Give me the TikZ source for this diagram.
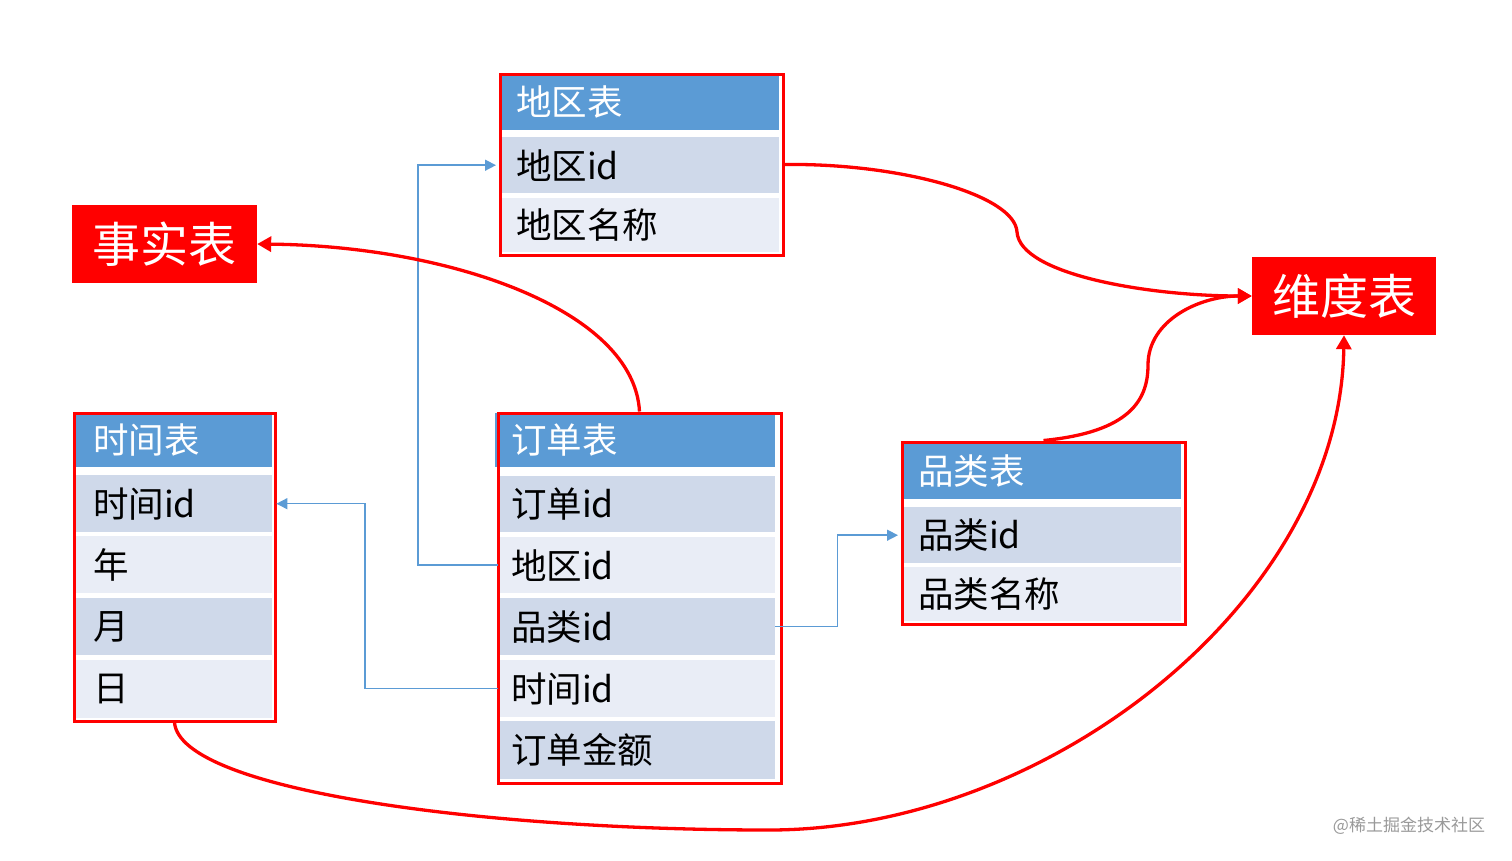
\documentclass[tikz,border=0pt]{standalone}
\usepackage{fontspec}
\setmainfont{Noto Sans CJK SC}
\usetikzlibrary{arrows.meta}
\definecolor{hdr}{HTML}{5B9BD5}
\definecolor{rdark}{HTML}{CFD9EA}
\definecolor{rlight}{HTML}{E9EDF6}
\definecolor{lnblue}{HTML}{5B9BD5}
\definecolor{frred}{HTML}{FF0000}
\begin{document}
\begin{tikzpicture}[x=1pt,y=-1pt,
  cell/.style={anchor=north west, inner xsep=16pt, inner ysep=0pt, align=left,
    font=\fontsize{35.5}{40}\selectfont, text=black},
  headcell/.style={cell, fill=hdr, text=white},
  darkcell/.style={cell, fill=rdark},
  lightcell/.style={cell, fill=rlight},
  frame/.style={draw=frred, line width=3pt, inner sep=0pt, anchor=north west},
  redbox/.style={fill=frred, inner sep=0pt, text=white, font=\fontsize{48}{52}\selectfont},
  blueline/.style={draw=lnblue, line width=1.5pt, shorten >=4pt, -{Triangle[length=11pt,width=11pt]}},
  redline/.style={draw=frred, line width=3.3pt, -{Triangle[length=14pt,width=15pt]}},
]
\useasboundingbox (0,0) rectangle (1512,860);

% 地区表
\node[headcell, text width=247pt, minimum height=56pt] (dh) at (500,74) {地区表};
\node[darkcell, text width=247pt, minimum height=56pt] (d1) at (500,137) {地区id};
\node[lightcell, text width=247pt, minimum height=54pt] (d2) at (500,198) {地区名称};
\node[frame, minimum width=283pt, minimum height=181pt] (db) at (498.5,72.5) {};

% 时间表
\node[headcell, inner xsep=19pt, text width=160pt, minimum height=54pt] (th) at (74,413) {时间表};
\node[darkcell, inner xsep=19pt, text width=160pt, minimum height=57pt] (t1) at (74,475) {时间id};
\node[lightcell, inner xsep=19pt, text width=160pt, minimum height=57pt] (t2) at (74,536) {年};
\node[darkcell, inner xsep=19pt, text width=160pt, minimum height=57pt] (t3) at (74,598) {月};
\node[lightcell, inner xsep=19pt, text width=160pt, minimum height=58pt] (t4) at (74,660) {日};
\node[frame, minimum width=201pt, minimum height=308pt] (tb) at (72.5,411.5) {};

% 订单表
\node[headcell, inner xsep=16pt, text width=248pt, minimum height=54pt] (oh) at (495,413) {订单表};
\node[darkcell, inner xsep=13pt, text width=251pt, minimum height=56pt] (o1) at (498,476) {订单id};
\node[lightcell, inner xsep=13pt, text width=251pt, minimum height=56pt] (o2) at (498,537) {地区id};
\node[darkcell, inner xsep=13pt, text width=251pt, minimum height=57pt] (o3) at (498,598) {品类id};
\node[lightcell, inner xsep=13pt, text width=251pt, minimum height=57pt] (o4) at (498,660) {时间id};
\node[darkcell, inner xsep=13pt, text width=251pt, minimum height=58pt] (o5) at (498,721) {订单金额};
\node[frame, minimum width=283pt, minimum height=370pt] (ob) at (496.5,411.5) {};

% 品类表
\node[headcell, text width=247pt, minimum height=57pt] (ch) at (902,442) {品类表};
\node[darkcell, text width=247pt, minimum height=56pt] (c1) at (902,507) {品类id};
\node[lightcell, text width=247pt, minimum height=54pt] (c2) at (902,567) {品类名称};
\node[frame, minimum width=283pt, minimum height=182pt] (cb) at (900.5,440.5) {};

% 事实表 / 维度表
\node[redbox, minimum width=185pt, minimum height=78pt] (fact) at (164.5,244) {事实表};
\node[redbox, minimum width=184pt, minimum height=78pt] (dim) at (1344,296) {维度表};

% blue connectors
\draw[blueline] (o2.west) -- ([xshift=-80pt]o2.west) |- (d1.west);
\draw[blueline] (o4.west) -- ([xshift=-133pt]o4.west) |- (t1.east);
\draw[blueline] (o3.east) -- ([xshift=62pt]o3.east) |- (c1.west);

% red connectors
\draw[redline] (ob.north) .. controls (634,310) and (450,246) .. (fact.east);
\draw[redline] (db.east) .. controls (900,163) and (1015,195) .. (1017,232)
  .. controls (1020,275) and (1150,296) .. (dim.west);
\draw[redline] (cb.north) .. controls (1130,432) and (1148,400) .. (1148,365)
  .. controls (1148,320) and (1200,296) .. (dim.west);
\draw[redline] (tb.south) .. controls (180,790) and (480,830) .. (769,830)
  .. controls (1050,830) and (1340,600) .. (dim.south);

% watermark
\node[text=black!40, font=\fontsize{17}{20}\selectfont, inner sep=0pt] (wm) at (1409,826) {@稀土掘金技术社区};
\end{tikzpicture}
\end{document}
